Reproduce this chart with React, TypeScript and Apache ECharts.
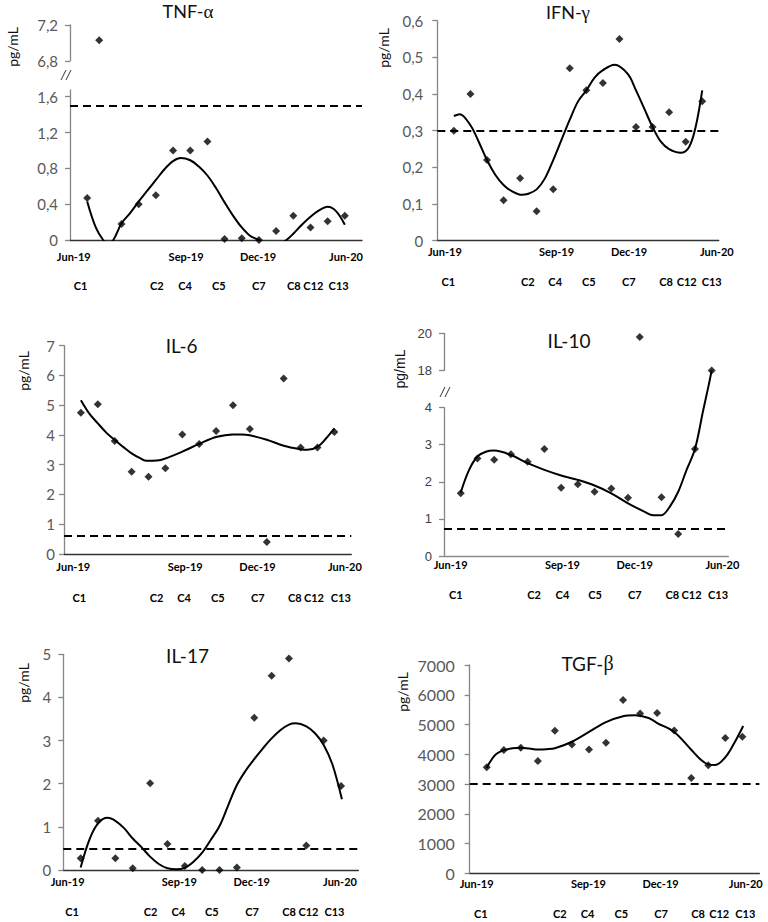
import React, { useEffect, useRef } from "react";
import * as echarts from "echarts";

// ---------- data ----------
const sampleIdx = [0, 1, 2, 3, 4, 5, 6, 7, 8, 9, 10, 11, 12, 13, 14, 15];
const monthLabels = ["Jun-19", "Sep-19", "Dec-19", "Jun-20"];
const cycleLabels = ["C1", "C2", "C4", "C5", "C7", "C8", "C12", "C13"];

// TNF-alpha
const tnfX = [0, 0.7, 2, 3, 4, 5, 6, 7, 8, 9, 10, 11, 12, 13, 14, 15];
const tnfValues = [0.47, 7.03, 0.18, 0.4, 0.5, 1.0, 1.0, 1.1, 0.01, 0.02, 0.0, 0.1, 0.27, 0.14, 0.21, 0.27];
const tnfTrendX = [0, 0.5, 0.93, 1.2, 1.52, 2, 2.5, 3, 3.5, 4, 4.5, 5, 5.45, 6, 6.5, 7, 7.5, 8, 8.5, 9, 9.5, 10, 10.5, 11, 11.6, 12, 12.5, 13, 13.5, 14, 14.5, 15];
const tnfTrendY = [0.43, 0.14, 0, -0.04, 0, 0.186, 0.3, 0.43, 0.55, 0.67, 0.79, 0.88, 0.915, 0.89, 0.82, 0.72, 0.58, 0.42, 0.27, 0.14, 0.045, 0, -0.06, -0.07, 0, 0.07, 0.17, 0.26, 0.33, 0.37, 0.32, 0.17];
const tnfRef = 1.5;
const tnfMonthPos = [-0.78, 5.76, 9.95, 15.07];
const tnfCyclePos = [-0.39, 4.05, 5.7, 7.66, 9.99, 12.03, 13.17, 14.64];

// IFN-gamma
const ifnValues = [0.3, 0.4, 0.22, 0.11, 0.17, 0.08, 0.14, 0.47, 0.41, 0.43, 0.55, 0.31, 0.31, 0.35, 0.27, 0.38];
const ifnTrendX = [0, 0.35, 1, 1.5, 2, 2.5, 3, 3.5, 4.1, 4.5, 5, 5.5, 6, 6.5, 7, 7.5, 8, 8.5, 9, 9.7, 10.5, 11, 11.5, 12, 12.5, 13, 13.7, 14.2, 14.6, 15];
const ifnTrendY = [0.34, 0.345, 0.315, 0.27, 0.22, 0.18, 0.152, 0.135, 0.125, 0.128, 0.14, 0.17, 0.22, 0.275, 0.33, 0.38, 0.41, 0.445, 0.465, 0.48, 0.455, 0.41, 0.36, 0.31, 0.27, 0.25, 0.24, 0.255, 0.31, 0.41];
const ifnRef = 0.3;
const ifnMonthPos = [-0.54, 6.2, 10.58, 15.88];
const ifnCyclePos = [-0.34, 4.47, 6.12, 8.15, 10.56, 12.82, 14.06, 15.57];

// IL-6
const il6Values = [4.75, 5.03, 3.8, 2.76, 2.6, 2.88, 4.02, 3.7, 4.13, 5.0, 4.2, 0.4, 5.9, 3.58, 3.58, 4.1];
const il6TrendX = [0, 0.5, 1, 1.5, 2, 2.5, 3, 3.5, 3.9, 4.5, 5, 6, 7, 8, 9, 9.5, 10, 11, 12, 13, 13.4, 14, 14.5, 15];
const il6TrendY = [5.17, 4.72, 4.39, 4.08, 3.83, 3.6, 3.38, 3.22, 3.13, 3.14, 3.21, 3.44, 3.7, 3.93, 4.02, 4.02, 3.99, 3.84, 3.64, 3.52, 3.5, 3.6, 3.88, 4.22];
const il6Ref = 0.62;
const il6MonthPos = [-0.45, 6.17, 10.45, 15.62];
const il6CyclePos = [-0.1, 4.48, 6.11, 8.1, 10.47, 12.66, 13.79, 15.38];

// IL-10
const il10X = [0, 1, 2, 3, 4, 5, 6, 7, 8, 9, 10, 10.7, 12, 13, 14, 15];
const il10Values = [1.69, 2.63, 2.59, 2.74, 2.54, 2.88, 1.84, 1.93, 1.73, 1.82, 1.57, 19.8, 1.58, 0.59, 2.88, 18.0];
const il10TrendX = [0, 0.5, 1, 1.5, 2, 3, 4, 5, 6, 7, 8, 9, 10, 11, 11.5, 12, 12.5, 13, 13.5, 14, 14.5, 14.8, 15];
const il10TrendY = [1.71, 2.32, 2.68, 2.81, 2.84, 2.72, 2.5, 2.32, 2.17, 2.05, 1.9, 1.69, 1.42, 1.19, 1.1, 1.1, 1.33, 1.73, 2.32, 2.88, 3.94, 11.8, 18];
const il10Ref = 0.73;
const il10MonthPos = [-0.6, 6.08, 10.4, 15.64];
const il10CyclePos = [-0.3, 4.38, 6.08, 8.03, 10.4, 12.65, 13.8, 15.38];

// IL-17
const il17Values = [0.27, 1.14, 0.27, 0.04, 2.01, 0.6, 0.09, 0.0, 0.0, 0.06, 3.53, 4.5, 4.9, 0.57, 3.0, 1.95];
const il17TrendX = [0, 0.5, 1, 1.55, 2, 2.5, 3, 3.5, 4, 4.5, 5, 5.5, 6, 6.5, 7, 7.5, 8, 8.5, 9, 9.5, 10, 10.5, 11, 11.5, 12, 12.4, 13, 13.5, 14, 14.5, 15.05];
const il17TrendY = [0.06, 0.7, 1.08, 1.21, 1.14, 0.97, 0.73, 0.53, 0.31, 0.14, 0.04, 0.015, 0.05, 0.19, 0.4, 0.7, 1.02, 1.5, 1.97, 2.3, 2.57, 2.82, 3.05, 3.24, 3.37, 3.4, 3.33, 3.17, 2.9, 2.45, 1.64];
const il17Ref = 0.5;
const il17MonthPos = [-0.75, 5.68, 9.85, 14.94];
const il17CyclePos = [-0.5, 4.03, 5.63, 7.55, 9.87, 12.0, 13.12, 14.62];

// TGF-beta
const tgfValues = [3560, 4140, 4220, 3770, 4790, 4330, 4160, 4390, 5820, 5370, 5390, 4800, 3200, 3630, 4550, 4590];
const tgfTrendX = [0, 0.5, 1, 1.5, 2, 2.5, 3, 3.5, 4, 5, 6, 7, 8, 8.7, 9.5, 10, 11, 12, 12.5, 13, 13.4, 14, 14.5, 15.05];
const tgfTrendY = [3550, 3980, 4140, 4200, 4220, 4190, 4160, 4170, 4200, 4420, 4750, 5080, 5280, 5310, 5220, 5050, 4750, 4150, 3850, 3660, 3640, 3900, 4350, 4950];
const tgfRef = 3000;
const tgfMonthPos = [-0.59, 5.97, 10.2, 15.2];
const tgfCyclePos = [-0.35, 4.29, 5.91, 7.9, 10.23, 12.4, 13.64, 15.17];

// ---------- layout / styling ----------
type Segment = { lo: number; hi: number; d0: number; d1: number; ticks: number[] };
type Panel = {
  name: string;
  greek: string;
  titleX: number;
  titleY: number;
  titleSize: number;
  unitX: number;
  unitY: number;
  unitFont: string;
  grid: { left: number; top: number; width: number; height: number };
  dmax: number;
  segments: Segment[];
  yLabel: { family: string; size: number; color: string; weight: any; margin: number };
  xLineColor: string;
  monthPos: number[];
  cyclePos: number[];
  monthMargin: number;
  cycleMargin: number;
  xs: number[];
  values: number[];
  trendX: number[];
  trendY: number[];
  ref: number;
  breakMark?: [number, number];
};

const grayLabel = (margin: number, size = 15) => ({ family: "Lato", size, color: "#595959", weight: "normal", margin });

const panels: Panel[] = [
  {
    name: "TNF-", greek: "α", titleX: 188, titleY: 11, titleSize: 18,
    unitX: 12, unitY: 47, unitFont: "Lato",
    grid: { left: 70, top: 25, width: 292, height: 215 }, dmax: 2.4,
    segments: [
      { lo: 0, hi: 1.675, d0: 0, d1: 1.675, ticks: [0, 0.4, 0.8, 1.2, 1.6] },
      { lo: 6.8, hi: 7.2, d0: 2.0, d1: 2.4, ticks: [6.8, 7.2] },
    ],
    yLabel: grayLabel(12), xLineColor: "#333",
    monthPos: tnfMonthPos, cyclePos: tnfCyclePos, monthMargin: 10.5, cycleMargin: 39.5,
    xs: tnfX, values: tnfValues, trendX: tnfTrendX, trendY: tnfTrendY, ref: tnfRef,
    breakMark: [66, 75],
  },
  {
    name: "IFN-", greek: "γ", titleX: 568, titleY: 12, titleSize: 18,
    unitX: 383, unitY: 48, unitFont: "Lato",
    grid: { left: 437.3, top: 20.7, width: 281.5, height: 220 }, dmax: 0.6,
    segments: [{ lo: 0, hi: 0.6, d0: 0, d1: 0.6, ticks: [0, 0.1, 0.2, 0.3, 0.4, 0.5, 0.6] }],
    yLabel: grayLabel(14), xLineColor: "#333",
    monthPos: ifnMonthPos, cyclePos: ifnCyclePos, monthMargin: 5, cycleMargin: 35.5,
    xs: sampleIdx, values: ifnValues, trendX: ifnTrendX, trendY: ifnTrendY, ref: ifnRef,
  },
  {
    name: "IL-6", greek: "", titleX: 181.7, titleY: 345, titleSize: 19,
    unitX: 23, unitY: 371, unitFont: "Lato",
    grid: { left: 64, top: 345.7, width: 287.3, height: 208.3 }, dmax: 7,
    segments: [{ lo: 0, hi: 7, d0: 0, d1: 7, ticks: [0, 1, 2, 3, 4, 5, 6, 7] }],
    yLabel: grayLabel(9), xLineColor: "#333",
    monthPos: il6MonthPos, cyclePos: il6CyclePos, monthMargin: 7, cycleMargin: 37.5,
    xs: sampleIdx, values: il6Values, trendX: il6TrendX, trendY: il6TrendY, ref: il6Ref,
  },
  {
    name: "IL-10", greek: "", titleX: 569, titleY: 340, titleSize: 19,
    unitX: 400, unitY: 369, unitFont: "Liberation Sans",
    grid: { left: 444, top: 333.3, width: 284.4, height: 222.7 }, dmax: 6,
    segments: [
      { lo: 0, hi: 4, d0: 0, d1: 4, ticks: [0, 1, 2, 3, 4] },
      { lo: 18, hi: 20, d0: 5, d1: 6, ticks: [18, 20] },
    ],
    yLabel: { family: "Liberation Sans", size: 13, color: "#404040", weight: "normal", margin: 12 },
    xLineColor: "#8c8c8c",
    monthPos: il10MonthPos, cyclePos: il10CyclePos, monthMargin: 2.5, cycleMargin: 32.5,
    xs: il10X, values: il10Values, trendX: il10TrendX, trendY: il10TrendY, ref: il10Ref,
    breakMark: [445, 392],
  },
  {
    name: "IL-17", greek: "", titleX: 187.5, titleY: 655, titleSize: 19,
    unitX: 23, unitY: 683, unitFont: "Lato",
    grid: { left: 63.3, top: 654.3, width: 295.1, height: 215.7 }, dmax: 5,
    segments: [{ lo: 0, hi: 5, d0: 0, d1: 5, ticks: [0, 1, 2, 3, 4, 5] }],
    yLabel: grayLabel(12), xLineColor: "#333",
    monthPos: il17MonthPos, cyclePos: il17CyclePos, monthMargin: 6, cycleMargin: 36,
    xs: sampleIdx, values: il17Values, trendX: il17TrendX, trendY: il17TrendY, ref: il17Ref,
  },
  {
    name: "TGF-", greek: "β", titleX: 587.5, titleY: 663.3, titleSize: 19,
    unitX: 402, unitY: 692, unitFont: "Lato",
    grid: { left: 469.7, top: 665, width: 289.7, height: 208.3 }, dmax: 7000,
    segments: [{ lo: 0, hi: 7000, d0: 0, d1: 7000, ticks: [0, 1000, 2000, 3000, 4000, 5000, 6000, 7000] }],
    yLabel: grayLabel(15, 16), xLineColor: "#333",
    monthPos: tgfMonthPos, cyclePos: tgfCyclePos, monthMargin: 5, cycleMargin: 35,
    xs: sampleIdx, values: tgfValues, trendX: tgfTrendX, trendY: tgfTrendY, ref: tgfRef,
  },
];

// maps a real value onto the (possibly broken) display scale
function makeTransform(segs: Segment[]) {
  return (v: number) => {
    for (let k = 0; k < segs.length; k++) {
      const s = segs[k];
      const scale = (s.d1 - s.d0) / (s.hi - s.lo);
      if (k === 0 && v < s.lo) return s.d0 + (v - s.lo) * scale;
      if (v >= s.lo && v <= s.hi) return s.d0 + (v - s.lo) * scale;
      const n = segs[k + 1];
      if (n && v > s.hi && v < n.lo) return s.d1 + ((v - s.hi) * (n.d0 - s.d1)) / (n.lo - s.hi);
      if (!n && v > s.hi) return s.d0 + (v - s.lo) * scale;
    }
    return v;
  };
}

const fmt = (v: number) => String(Math.round(v * 1000) / 1000).replace(".", ",");

function buildOption() {
  const grids: any[] = [];
  const xAxes: any[] = [];
  const yAxes: any[] = [];
  const series: any[] = [];
  const graphics: any[] = [];
  const X_MIN = -1;
  const X_MAX = 16;

  panels.forEach((p) => {
    const tf = makeTransform(p.segments);
    const g = grids.length;
    grids.push({ ...p.grid, show: false, containLabel: false, outerBoundsMode: "none" });
    const xm = xAxes.length;
    xAxes.push({
      type: "value", gridIndex: g, min: X_MIN, max: X_MAX, position: "bottom",
      axisLine: { show: true, onZero: false, lineStyle: { color: p.xLineColor, width: 1.3 } },
      axisTick: { show: false }, splitLine: { show: false },
      axisLabel: {
        show: true, customValues: p.monthPos, margin: p.monthMargin,
        fontFamily: "Lato", fontWeight: "bold", fontSize: 11, color: "#000",
        formatter: (v: number) => {
          const i = p.monthPos.findIndex((m) => Math.abs(m - v) < 1e-6);
          return i >= 0 ? monthLabels[i] : "";
        },
      },
    });
    xAxes.push({
      type: "value", gridIndex: g, min: X_MIN, max: X_MAX, position: "bottom",
      axisLine: { show: false, onZero: false }, axisTick: { show: false }, splitLine: { show: false },
      axisLabel: {
        show: true, customValues: p.cyclePos, margin: p.cycleMargin,
        fontFamily: "Lato", fontWeight: "bold", fontSize: 11, color: "#000",
        formatter: (v: number) => {
          const i = p.cyclePos.findIndex((m) => Math.abs(m - v) < 1e-6);
          return i >= 0 ? cycleLabels[i] : "";
        },
      },
    });
    const ym = yAxes.length;
    yAxes.push({ type: "value", gridIndex: g, min: 0, max: p.dmax, show: false });

    // visible (possibly broken) y-axis segments
    p.segments.forEach((s) => {
      const gs = grids.length;
      const top = p.grid.top + ((p.dmax - s.d1) / p.dmax) * p.grid.height;
      const height = ((s.d1 - s.d0) / p.dmax) * p.grid.height;
      grids.push({ left: p.grid.left, width: p.grid.width, top, height, show: false, containLabel: false, outerBoundsMode: "none" });
      xAxes.push({ type: "value", gridIndex: gs, min: X_MIN, max: X_MAX, show: false });
      yAxes.push({
        type: "value", gridIndex: gs, min: s.lo, max: s.hi, position: "left",
        axisLine: { show: true, onZero: false, lineStyle: { color: "#868686", width: 1.3 } },
        axisTick: { show: true, inside: false, length: 5, customValues: s.ticks, lineStyle: { color: "#868686", width: 1.3 } },
        splitLine: { show: false },
        axisLabel: {
          show: true, customValues: s.ticks, margin: p.yLabel.margin,
          fontFamily: p.yLabel.family, fontSize: p.yLabel.size, color: p.yLabel.color, fontWeight: p.yLabel.weight,
          formatter: (v: number) => fmt(v),
        },
      });
    });

    series.push({
      type: "line", xAxisIndex: xm, yAxisIndex: ym, smooth: 0.35, symbol: "none", clip: true,
      lineStyle: { color: "#000", width: 2 }, z: 2, silent: true,
      data: p.trendX.map((x, i) => [x, tf(p.trendY[i])]),
    });
    series.push({
      type: "scatter", xAxisIndex: xm, yAxisIndex: ym, symbol: "diamond", symbolSize: 8,
      itemStyle: { color: "#000" }, z: 3, silent: true,
      data: p.xs.map((x, i) => [x, tf(p.values[i])]),
      markLine: {
        silent: true, symbol: ["none", "none"], label: { show: false },
        lineStyle: { color: "#000", type: [8, 5], width: 2 },
        data: [{ yAxis: tf(p.ref) }],
      },
    });

    graphics.push({
      type: "text", x: p.titleX, y: p.titleY, silent: true,
      style: {
        text: p.greek ? `{a|${p.name}}{g|${p.greek}}` : `{a|${p.name}}`,
        align: "center", verticalAlign: "middle",
        rich: {
          a: { fontFamily: "Lato", fontSize: p.titleSize, fill: "#111" },
          g: { fontFamily: "Liberation Serif", fontSize: p.titleSize + 1, fill: "#111" },
        },
      },
    });
    graphics.push({
      type: "text", x: p.unitX, y: p.unitY, rotation: Math.PI / 2, silent: true,
      style: { text: "pg/mL", fontFamily: p.unitFont, fontSize: 14, fill: "#111", align: "center", verticalAlign: "middle" },
    });
    if (p.breakMark) {
      const [bx, by] = p.breakMark;
      [-2.5, 2.5].forEach((dx) => {
        graphics.push({
          type: "line", silent: true,
          shape: { x1: bx + dx - 2.5, y1: by + 5, x2: bx + dx + 2.5, y2: by - 5 },
          style: { stroke: "#333", lineWidth: 1 },
        });
      });
    }
  });

  return {
    animation: false,
    backgroundColor: "#ffffff",
    grid: grids,
    xAxis: xAxes,
    yAxis: yAxes,
    series,
    graphic: graphics,
  };
}

export default function App() {
  const ref = useRef<HTMLDivElement>(null);
  useEffect(() => {
    if (!ref.current) return;
    const chart = echarts.init(ref.current, undefined, { renderer: "svg" });
    chart.setOption(buildOption() as any);
    return () => chart.dispose();
  }, []);
  return (
    <div
      ref={ref}
      style={{ position: "fixed", left: 0, top: 0, width: 768, height: 922, background: "#fff" }}
    />
  );
}
